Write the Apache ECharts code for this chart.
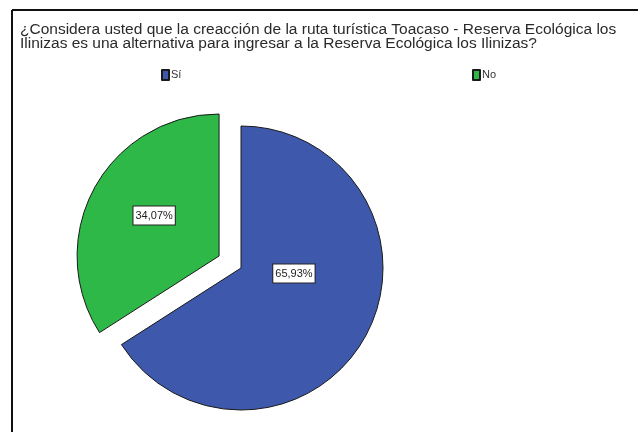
<!DOCTYPE html>
<html>
<head>
<meta charset="utf-8">
<script src="https://cdn.jsdelivr.net/npm/echarts@6/dist/echarts.min.js"></script>
<style>
html,body{margin:0;padding:0;background:#fff;}
#c{width:638px;height:432px;}
</style>
</head>
<body>
<div id="c"></div>
<script>
const titleText = '¿Considera usted que la creacción de la ruta turística Toacaso - Reserva Ecológica los\nIlinizas es una alternativa para ingresar a la Reserva Ecológica los Ilinizas?';
const categories = ['Sí', 'No'];
const percentages = [65.93, 34.07];
const colors = ['#3E58AC', '#2EB848'];

const chart = echarts.init(document.getElementById('c'), null, {renderer: 'canvas'});
const fmt = v => v.toFixed(2).replace('.', ',') + '%';

chart.setOption({
  backgroundColor: '#fff',
  animation: false,
  graphic: [
    {type: 'line', shape: {x1: 12, y1: 10, x2: 638, y2: 10}, style: {stroke: '#111', lineWidth: 2}},
    {type: 'line', shape: {x1: 12, y1: 10, x2: 12, y2: 432}, style: {stroke: '#111', lineWidth: 2}}
  ],
  title: {
    text: titleText,
    left: 15,
    top: 18,
    textStyle: {fontFamily: 'Liberation Sans, Arial, sans-serif', fontSize: 15.5, fontWeight: 'normal', color: '#2a2a2a', lineHeight: 14}
  },
  legend: [
    {data: [categories[0]], left: 156, top: 64, icon: 'rect', itemWidth: 7, itemHeight: 10, itemGap: 2,
     textStyle: {fontFamily: 'Liberation Sans, Arial, sans-serif', fontSize: 11, color: '#333', padding: [0,0,0,-3]}},
    {data: [categories[1]], left: 467, top: 64, icon: 'rect', itemWidth: 7, itemHeight: 10, itemGap: 2,
     textStyle: {fontFamily: 'Liberation Sans, Arial, sans-serif', fontSize: 11, color: '#333', padding: [0,0,0,-3]}}
  ],
  series: [{
    type: 'pie',
    center: [241, 268],
    radius: 142,
    startAngle: 90,
    clockwise: true,
    selectedMode: 'single',
    selectedOffset: 25,
    avoidLabelOverlap: false,
    itemStyle: {borderColor: '#1a1a1a', borderWidth: 1},
    label: {
      show: true,
      position: 'inside',
      formatter: p => fmt(p.value),
      fontFamily: 'Liberation Sans, Arial, sans-serif',
      fontSize: 11,
      color: '#222',
      backgroundColor: '#fff',
      borderColor: '#222',
      borderWidth: 1,
      padding: [4, 2, 3, 2]
    },
    labelLine: {show: false},
    labelLayout: function (params) {
      if (params.dataIndex === 0) return {dx: -12, dy: -30};
      return {dx: 0, dy: -5};
    },
    emphasis: {disabled: true},
    data: categories.map((c, i) => ({
      name: c,
      value: percentages[i],
      selected: i === 1,
      itemStyle: {color: colors[i]}
    }))
  }]
});
</script>
</body>
</html>
